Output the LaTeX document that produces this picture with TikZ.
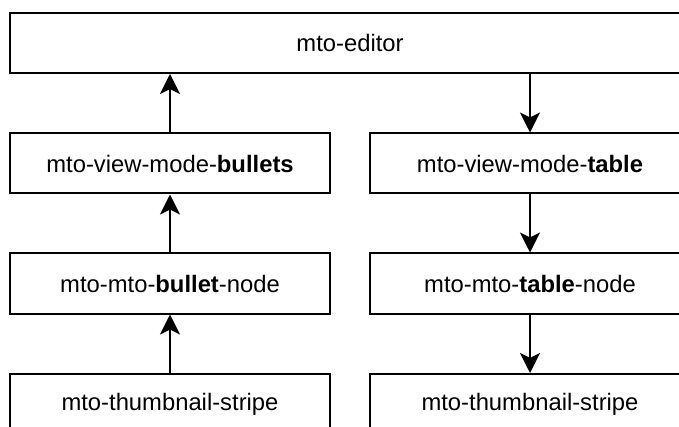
\documentclass[tikz,border=0pt]{standalone}
\usepackage{fontspec}
\setmainfont{Liberation Sans}
\usetikzlibrary{arrows.meta}
\begin{document}
\begin{tikzpicture}[x=1pt,y=-1pt,
  box/.style={draw=black, line width=2pt, fill=white, rectangle, minimum height=60pt, inner sep=0pt,
    font=\fontsize{23.8}{28}\selectfont},
  colbox/.style={box, minimum width=320pt},
  conn/.style={line width=2pt, -{Stealth[length=20pt,width=20pt,inset=5pt]}}]
\useasboundingbox (0,0) rectangle (679,427);
\clip (0,0) rectangle (679,427);
\fill[white] (0,0) rectangle (679,427);
\node[box, minimum width=680pt] (ed) at (350,43) {mto-editor};
\node[colbox] (vb) at (170,163.5) {mto-view-mode-\textbf{bullets}};
\node[colbox] (vt) at (530,163.5) {mto-view-mode-\textbf{table}};
\node[colbox] (bn) at (170,283.5) {mto-mto-\textbf{bullet}-node};
\node[colbox] (tn) at (530,283.5) {mto-mto-\textbf{table}-node};
\node[colbox] (ts1) at (170,404) {mto-thumbnail-stripe};
\node[colbox] (ts2) at (530,404) {mto-thumbnail-stripe};
\draw[conn] (vb.north) -- (ed.south -| vb.north);
\draw[conn] (bn.north) -- (vb.south);
\draw[conn] (ts1.north) -- (bn.south);
\draw[conn] (ed.south -| vt.north) -- (vt.north);
\draw[conn] (vt.south) -- (tn.north);
\draw[conn] (tn.south) -- (ts2.north);
\end{tikzpicture}
\end{document}
